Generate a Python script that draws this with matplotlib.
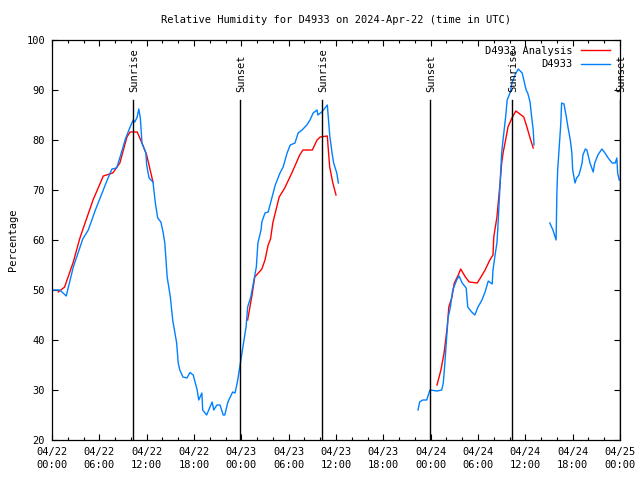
import numpy as np
import matplotlib
matplotlib.use("Agg")
import matplotlib.pyplot as plt
from matplotlib.ticker import MultipleLocator, FixedLocator

# hours since 2024-04-22 00:00 UTC
obs_hours = [0.13, 1.0, 1.8, 2.7, 3.9, 4.6, 5.5, 7.0, 7.6, 8.2, 8.9, 9.3, 9.9, 10.3, 10.5, 10.8,
             11.0, 11.2, 11.4, 11.9, 12.0, 12.3, 12.8, 13.1, 13.4, 13.8, 14.1, 14.3, 14.6, 15.0,
             15.3, 15.8, 16.0, 16.2, 16.6, 17.1, 17.5, 17.9, 18.4, 18.6, 19.0, 19.1, 19.6, 20.3,
             20.5, 20.9, 21.3, 21.7, 21.9, 22.3, 22.9, 23.2, 23.5, 23.8, 24.2, 24.6, 24.8, 25.2,
             25.6, 25.9, 26.1, 26.5, 26.6, 27.0, 27.4, 27.9, 28.3, 28.9, 29.3, 29.8, 30.2, 30.8,
             31.2, 31.7, 32.3, 32.7, 33.1, 33.6, 33.7, 34.2, 34.6, 34.9, 35.2, 35.5, 35.7, 36.1,
             36.3,
             np.nan,
             46.4, 46.6, 47.0, 47.5, 47.9, 48.8, 49.4, 49.6, 49.8, 50.1, 50.2, 50.5, 50.8, 51.3,
             51.6, 52.0, 52.5, 52.7, 53.2, 53.6, 54.0, 54.5, 54.9, 55.3, 55.8, 55.9, 56.2, 56.4,
             56.5, 57.0, 57.2, 57.5, 57.7, 58.1, 58.3, 58.7, 59.1, 59.6, 59.8, 60.1, 60.3, 60.6,
             60.8, 61.0, 61.1,
             np.nan,
             63.1, 63.5, 63.9, 64.0, 64.1, 64.3, 64.5, 64.6, 64.9, 65.2, 65.4, 65.7, 65.9, 66.0,
             66.3, 66.5, 66.8, 67.2, 67.3, 67.6, 67.8, 68.2, 68.6, 68.8, 69.2, 69.7, 70.1, 70.5,
             71.0, 71.4, 71.6, 71.7, 71.9]
obs_values = [50, 50, 48.8, 54.6, 60.2, 62, 66, 72, 74.2, 74.4, 78, 80.2, 82.6, 84, 83.6, 84.6,
              86.2, 84.4, 79.4, 77.4, 75, 72.4, 71.6, 67.4, 64.4, 63.6, 61.4, 59.4, 52.6, 48.6,
              44, 39.4, 35.4, 34, 32.6, 32.4, 33.5, 33, 30, 28, 29.4, 26, 25, 27.6,
              26, 27, 27, 25, 25, 27.6, 29.6, 29.4, 31.6, 34.6, 38.6, 42.6, 46.6, 48.6,
              52, 54.6, 59.4, 62, 63.6, 65.4, 65.6, 68.6, 71, 73.4, 74.6, 77.4, 79, 79.4,
              81.4, 82, 83, 84, 85.4, 86, 85, 85.6, 86.4, 87, 81, 77.4, 75.4, 73.4,
              71.4,
              np.nan,
              26, 27.6, 28, 28, 30, 29.8, 30, 31.4, 35.4, 42, 44.4, 46.6, 50, 52,
              52.8, 51.4, 50.4, 46.6, 45.6, 45, 46.6, 48, 49.6, 51.8, 51.2, 54, 57.4, 59.4,
              62, 77.4, 80.4, 84.6, 88, 89.6, 91.4, 93, 94.2, 93.4, 92, 90, 89.4, 87.6,
              84.6, 82, 79,
              np.nan,
              63.4, 62, 60, 69.4, 74, 78.6, 83.4, 87.4, 87.2, 84.6, 82.6, 80, 77.4, 74,
              71.4, 72.4, 73, 75.4, 77, 78.2, 78, 75.4, 73.6, 75.4, 77, 78.2, 77.4, 76.4,
              75.4, 75.4, 76.4, 73.4, 72]

ana_hours = [0.8, 1.6, 2.7, 3.5, 3.8, 5.2, 6.5, 7.7, 8.6, 9.5, 9.9, 10.8, 11.4, 12.0, 12.8,
             np.nan,
             24.8, 25.4, 25.7, 26.6, 27.0, 27.4, 27.7, 28.0, 28.8, 29.5, 30.4, 31.4, 31.8, 33.0,
             33.6, 34.0, 34.9, 35.0, 35.2, 35.6, 36.0,
             np.nan,
             48.8, 49.3, 49.7, 50.1, 50.3, 50.7, 51.0, 51.5, 51.8, 52.4, 52.9, 53.9, 54.3, 54.9,
             55.5, 55.9, 56.0, 56.4, 56.8, 57.0, 57.2, 57.5, 57.8, 58.3, 58.8, 59.3, 59.8, 60.2,
             60.6, 61.0]
ana_values = [49.6, 50.6, 55.6, 60.2, 61.6, 68, 72.8, 73.4, 75.4, 80.6, 81.6, 81.6, 79.4, 77, 71.6,
              np.nan,
              44, 49.4, 52.6, 54.2, 56, 59, 60.2, 63.5, 68.6, 70.4, 73.4, 77, 78, 78,
              80, 80.6, 80.8, 78.6, 74.6, 71.4, 69,
              np.nan,
              31, 34, 37.4, 42.6, 46.6, 48.6, 51.4, 53, 54.2, 52.6, 51.6, 51.4, 52.4, 54,
              56, 57, 60.6, 64.6, 71.4, 75.4, 77.6, 80, 82.6, 84.4, 85.8, 85.2, 84.6, 82.6,
              80.4, 78.4]

event_hours = [10.27, 23.83, 34.2, 47.9, 58.3, 71.95]
event_labels = ["Sunrise", "Sunset", "Sunrise", "Sunset", "Sunrise", "Sunset"]

tick_hours = [0, 6, 12, 18, 24, 30, 36, 42, 48, 54, 60, 66, 72]
tick_labels = ["04/22\n00:00", "04/22\n06:00", "04/22\n12:00", "04/22\n18:00",
               "04/23\n00:00", "04/23\n06:00", "04/23\n12:00", "04/23\n18:00",
               "04/24\n00:00", "04/24\n06:00", "04/24\n12:00", "04/24\n18:00",
               "04/25\n00:00"]

plt.rcParams['font.family'] = ['DejaVu Sans Mono']
FS = 7.5

fig = plt.figure(figsize=(6.4, 4.8), dpi=100)
ax = fig.add_axes([52/640, 40/480, 568/640, 400/480])

ax.plot(ana_hours, ana_values, color='#ff0000', lw=1.0, label='D4933 Analysis')
ax.plot(obs_hours, obs_values, color='#0080ff', lw=1.0, label='D4933')

for h, lab in zip(event_hours, event_labels):
    ax.plot([h, h], [20, 88], color='black', lw=1.0)
    ax.text(h + 0.2, 89.6, lab, rotation=90, ha='center', va='bottom', fontsize=FS,
            clip_on=False)

ax.set_xlim(0, 72)
ax.set_ylim(20, 100)
ax.xaxis.set_major_locator(FixedLocator(tick_hours))
ax.set_xticklabels(tick_labels, fontsize=FS, linespacing=1.35)
ax.xaxis.set_minor_locator(MultipleLocator(2))
ax.yaxis.set_major_locator(MultipleLocator(10))
ax.tick_params(axis='y', labelsize=FS)
ax.tick_params(which='both', direction='in', top=True, right=True, width=0.8, pad=5)
ax.tick_params(which='major', length=4)
ax.tick_params(which='minor', length=2.5)
for s in ax.spines.values():
    s.set_linewidth(0.9)

ax.set_title('Relative Humidity for D4933 on 2024-Apr-22 (time in UTC)', fontsize=FS, pad=12)
ax.set_ylabel('Percentage', fontsize=FS, labelpad=6)

leg = ax.legend(loc='upper right', bbox_to_anchor=(0.985, 0.9875), fontsize=FS, frameon=False,
                markerfirst=False, handlelength=2.8, borderaxespad=0.0, borderpad=0.1,
                labelspacing=0.3, handletextpad=0.8)
for t in leg.get_texts():
    t.set_ha('right')

fig.savefig('out.png', dpi=100)
